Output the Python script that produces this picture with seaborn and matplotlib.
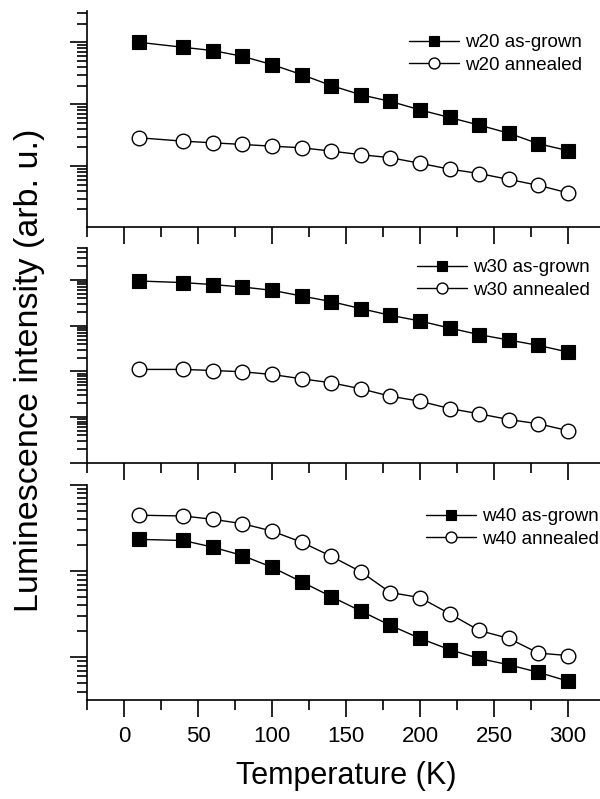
import matplotlib
matplotlib.use("Agg")
import matplotlib.pyplot as plt
import seaborn as sns
import numpy as np
from matplotlib.ticker import LogLocator, NullFormatter, MultipleLocator

# Temperature points (K)
temperature = [10, 40, 60, 80, 100, 120, 140, 160, 180, 200, 220, 240, 260, 280, 300]

# Sample w20
w20_as_grown = [1000, 830, 735, 594, 436, 301, 200, 142, 111, 81, 61, 46, 34, 23, 17.8]
w20_annealed = [28.7, 25.3, 23.8, 22.4, 21.0, 19.8, 17.5, 15.3, 13.7, 11.1, 8.95, 7.6, 6.1, 4.9, 3.7]

# Sample w30
w30_as_grown = [9500, 8770, 7930, 7030, 5950, 4470, 3370, 2370, 1690, 1270, 891, 639, 487, 372, 266]
w30_annealed = [111, 111, 105, 98.7, 86, 69.3, 56.6, 41.9, 28.8, 22.4, 15.5, 11.9, 8.9, 7.2, 5.1]

# Sample w40
w40_as_grown = [234, 227, 190, 152, 111, 75.3, 50.7, 34.5, 23.5, 16.6, 12.3, 9.7, 8.2, 6.7, 5.3]
w40_annealed = [446, 437, 400, 356, 292, 217, 149, 98.6, 56.5, 49.4, 32.1, 20.5, 16.6, 11.2, 10.5]

panels = [
    ("w20", w20_as_grown, w20_annealed, (1.04, 3200), False),
    ("w30", w30_as_grown, w30_annealed, (1.0, 5.0e4), False),
    ("w40", w40_as_grown, w40_annealed, (3.2, 1000), True),
]

sns.set_style("ticks")
plt.rcParams["font.family"] = ["Liberation Sans", "DejaVu Sans"]
plt.rcParams.update({
    "axes.linewidth": 1.2,
    "axes.edgecolor": "black",
    "text.color": "black",
    "axes.labelcolor": "black",
    "xtick.color": "black",
    "ytick.color": "black",
})

W, H = 600, 799
fig = plt.figure(figsize=(W / 100, H / 100), dpi=100)

# panel extents in pixels: (top, bottom)
extents = [(11, 227), (248, 463), (485, 700)]
legend_anchor = [(409, 54), (417, 279), (426, 528)]
left_px, right_px = 87, 605

for (name, grown, annealed, ylim, show_xlabels), (top, bot), (lx, ly) in zip(panels, extents, legend_anchor):
    ax = fig.add_axes([left_px / W, 1 - bot / H, (right_px - left_px) / W, (bot - top) / H])
    sns.lineplot(x=temperature, y=grown, ax=ax, color="black", linewidth=1,
                 marker="s", markersize=9.6, markerfacecolor="black",
                 markeredgecolor="black", markeredgewidth=0.8,
                 label=f"{name} as-grown")
    sns.lineplot(x=temperature, y=annealed, ax=ax, color="black", linewidth=1,
                 marker="o", markersize=10.5, markerfacecolor="white",
                 markeredgecolor="black", markeredgewidth=1.0,
                 label=f"{name} annealed")
    ax.set_yscale("log")
    ax.set_ylim(*ylim)
    ax.set_xlim(-25, 325)
    ax.yaxis.set_major_locator(LogLocator(base=10, numticks=20))
    ax.yaxis.set_minor_locator(LogLocator(base=10, subs=np.arange(2, 10), numticks=20))
    ax.yaxis.set_major_formatter(NullFormatter())
    ax.yaxis.set_minor_formatter(NullFormatter())
    ax.xaxis.set_major_locator(MultipleLocator(50))
    ax.xaxis.set_minor_locator(MultipleLocator(25))
    ax.tick_params(axis="both", which="major", direction="out", length=12, width=1.2,
                   labelsize=16, pad=7)
    ax.tick_params(axis="both", which="minor", direction="out", length=7, width=1.2)
    if not show_xlabels:
        ax.tick_params(axis="x", labelbottom=False)
    ax.set_xlabel("")
    ax.set_ylabel("")
    sns.despine(ax=ax)
    ax.legend(loc="center left", bbox_to_anchor=(lx / W, 1 - ly / H),
              bbox_transform=fig.transFigure, frameon=False, fontsize=13.5,
              borderpad=0, borderaxespad=0, handlelength=2.67, handletextpad=0.32,
              labelspacing=0.3, markerscale=0.75)
    if show_xlabels:
        ax.set_xlabel("Temperature (K)", fontsize=22, labelpad=10)

fig.text(30 / W, 1 - 370 / H, "Luminescence intensity (arb. u.)", rotation=90,
         ha="center", va="center", fontsize=24.5)

fig.savefig("out.png", dpi=100)
